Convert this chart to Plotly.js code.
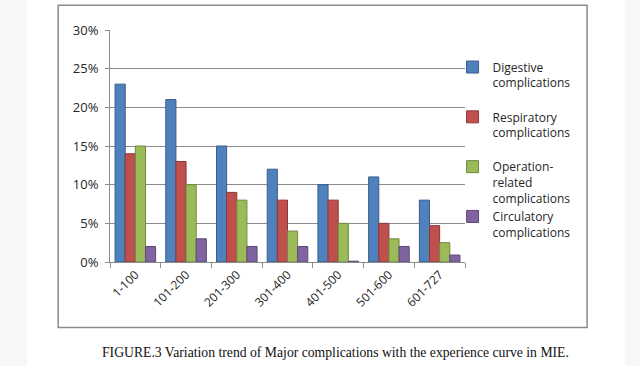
<!DOCTYPE html>
<html>
<head>
<meta charset="utf-8">
<script src="https://cdn.plot.ly/plotly-3.0.1.min.js"></script>
<style>html,body{margin:0;padding:0;background:#fff;}#chart{width:640px;height:366px;}</style>
</head>
<body>
<div id="chart"></div>
<script>
var categories = ["1-100", "101-200", "201-300", "301-400", "401-500", "501-600", "601-727"];
var digestive = [23, 21, 15, 12, 10, 11, 8];
var respiratory = [14, 13, 9, 8, 8, 5, 4.7];
var operation = [15, 10, 8, 4, 5, 3, 2.5];
var circulatory = [2, 3, 2, 2, 0.1, 2, 0.9];
var seriesNames = ["Digestive<br>complications<br>&nbsp;", "Respiratory<br>complications<br>&nbsp;", "Operation-<br>related<br>complications", "Circulatory<br>complications<br>&nbsp;"];
var seriesColors = ["#4f81bd", "#c0504d", "#9bbb59", "#8064a2"];
var seriesLines = ["#385d8a", "#8c3836", "#71893f", "#5c4776"];
var seriesValues = [digestive, respiratory, operation, circulatory];

var traces = seriesValues.map(function (vals, i) {
  return {
    type: "bar",
    x: categories,
    y: vals,
    name: seriesNames[i],
    legendgroup: "g" + i,
    marker: {color: seriesColors[i], line: {color: seriesLines[i], width: 1}},
    hoverinfo: "skip"
  };
});

var layout = {
  width: 640, height: 366,
  margin: {l: 110, r: 175, t: 30, b: 104},
  paper_bgcolor: "#ffffff",
  plot_bgcolor: "#ffffff",
  barmode: "group",
  bargap: 0.2,
  bargroupgap: 0,
  showlegend: true,
  font: {family: "Open Sans, Liberation Sans, sans-serif", size: 12, color: "#262626"},
  xaxis: {
    type: "category",
    tickangle: -45,
    tickson: "boundaries",
    ticks: "outside",
    ticklen: 5,
    tickcolor: "#8c8c8c",
    showline: true,
    linecolor: "#8c8c8c",
    linewidth: 1,
    showgrid: false,
    tickfont: {size: 12, color: "#262626"}
  },
  yaxis: {
    range: [0, 30],
    dtick: 5,
    ticksuffix: "%",
    showline: true,
    linecolor: "#8c8c8c",
    linewidth: 1,
    gridcolor: "#8c8c8c",
    gridwidth: 1,
    zeroline: false,
    ticks: "outside",
    ticklen: 4,
    tickcolor: "#8c8c8c",
    ticklabelstandoff: 4,
    tickfont: {size: 13, color: "#262626"}
  },
  legend: {
    x: 0.965, y: 0.902, xanchor: "left", yanchor: "top",
    valign: "top",
    bgcolor: "rgba(0,0,0,0)",
    tracegroupgap: 0,
    font: {size: 12, color: "#262626"},
    itemwidth: 30
  },
  shapes: [
    {type: "rect", xref: "paper", yref: "paper", x0: -0.146, x1: 1.344, y0: -0.282, y1: 1.107,
     line: {color: "#8a8a8a", width: 1.5}, fillcolor: "rgba(0,0,0,0)"},
    {type: "rect", xref: "paper", yref: "paper", x0: -0.32, x1: -0.234, y0: -0.45, y1: 1.25,
     line: {width: 0}, fillcolor: "#f6f7f7", layer: "below"},
    {type: "rect", xref: "paper", yref: "paper", x0: 1.45, x1: 1.5, y0: -0.45, y1: 1.25,
     line: {width: 0}, fillcolor: "#f6f7f7", layer: "below"}
  ],
  annotations: [
    {xref: "paper", yref: "paper", x: 0.634, y: -0.39, xanchor: "center", yanchor: "middle",
     showarrow: false,
     text: "FIGURE.3 Variation trend of Major complications with the experience curve in MIE.",
     font: {family: "Liberation Serif, Times New Roman, serif", size: 13.7, color: "#111"}}
  ]
};

Plotly.newPlot("chart", traces, layout, {staticPlot: true, displayModeBar: false});
</script>
</body>
</html>
